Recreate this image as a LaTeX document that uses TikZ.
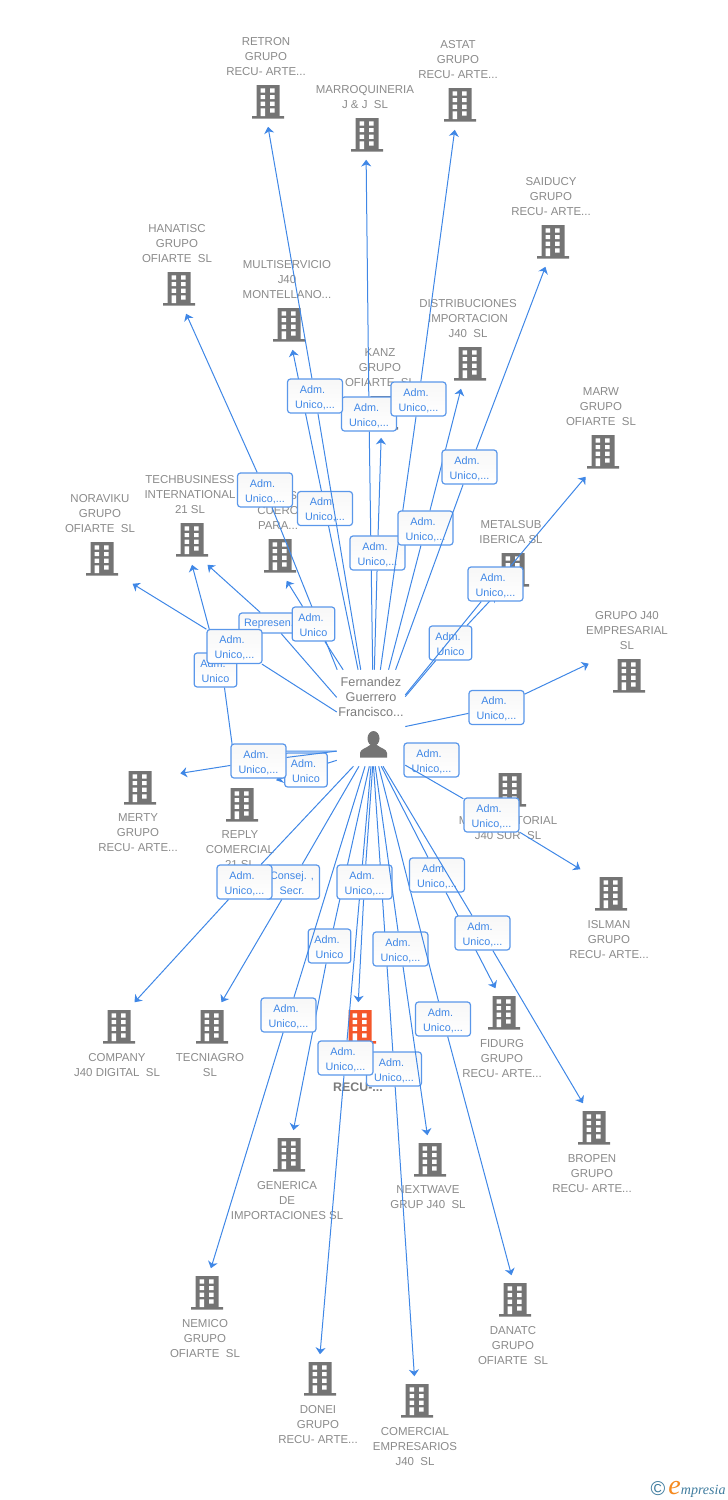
\documentclass[tikz,border=0pt]{standalone}
\usepackage{fontspec}
\setmainfont{Liberation Sans}
\newfontfamily\logofont{Liberation Serif}
\usetikzlibrary{arrows.meta}
\definecolor{relblue}{HTML}{3F87E6}
\definecolor{boxblue}{HTML}{5A97EA}
\definecolor{txtgray}{HTML}{8A8A8A}
\definecolor{icongray}{HTML}{747474}
\definecolor{iconred}{HTML}{F4572A}
\definecolor{logoteal}{HTML}{3F7C9E}
\definecolor{logoorange}{HTML}{F58A1F}
\newcommand{\bldgicon}[1]{
  \begin{scope}[shift={(path picture bounding box.center)}]
    \fill[#1] (-11.5,-17) rectangle (11.5,14) (-16,14) rectangle (16,16.5);
    \foreach \wy in {-13.7,-7,-0.3} {
      \fill[white] (-7.3,\wy) rectangle +(4.4,4.2) (2,\wy) rectangle +(4.6,4.2);
    }
    \fill[white] (-7.3,6.3) rectangle (-3,14) (2,6.3) rectangle +(4.6,4.2);
  \end{scope}
}
\tikzset{
  bldg/.style={rectangle, inner sep=0mm, minimum width=60pt, minimum height=36.75pt, path picture={\bldgicon{#1}}},
  bldg/.default=icongray,
  every label/.style={align=center, inner sep=0mm, text=txtgray, xshift=-1.5pt, label distance=.75pt, font=\fontsize{8.6}{11.25}\selectfont},
  perbox/.style={rectangle, inner sep=0mm, minimum width=51pt, minimum height=72pt, path picture={
    \begin{scope}[shift={(path picture bounding box.center)}]
      \fill[icongray] (2.5,20.5) ellipse [x radius=4.5pt, y radius=5.6pt];
      \fill[icongray] (-11,39.7) -- (16,39.7) -- (16,35) .. controls (16,31) and (9,30) .. (6,27) -- (-1,27) .. controls (-4,30) and (-11,31) .. (-11,35) -- cycle;
    \end{scope}}},
  pertext/.style={align=center, inner sep=0mm, text=txtgray!90!black, font=\fontsize{9.5}{11.25}\selectfont},
  relbox/.style={rectangle, draw=boxblue, line width=.9pt, rounded corners=2.25pt, top color=black!3, bottom color=white, inner sep=0mm, minimum width=41.25pt, minimum height=25.5pt, text height=18pt, text depth=0pt, align=center, text=relblue, font=\fontsize{8.1}{11.25}\selectfont},
  relshort/.style={relbox, minimum width=32pt},
  rel/.style={draw=relblue, line width=.75pt, -{Stealth[length=5pt, width=7.5pt, inset=1.5pt]}},
  plain/.style={draw=relblue, line width=.75pt}
}
\begin{document}
\begin{tikzpicture}[x=.75pt, y=-.75pt]
\useasboundingbox (0,0) rectangle (728,1500);
\node (b0) [bldg, label=above:{RETRON\\GRUPO\\RECU- ARTE...}] at (268,102) {};
\node (b1) [bldg, label=above:{MARROQUINERIA\\J \& J~~SL}] at (367,135) {};
\node (b2) [bldg, label=above:{ASTAT\\GRUPO\\RECU- ARTE...}] at (460,105) {};
\node (b3) [bldg, label=above:{SAIDUCY\\GRUPO\\RECU- ARTE...}] at (553,242) {};
\node (b4) [bldg, label=above:{HANATISC\\GRUPO\\OFIARTE~~SL}] at (179,289) {};
\node (b5) [bldg, label=above:{MULTISERVICIO\\J40\\MONTELLANO...}] at (289,325) {};
\node (b6) [bldg, label=above:{DISTRIBUCIONES\\IMPORTACION\\J40~~SL}] at (470,364) {};
\node (b7) [bldg, label=above:{KANZ\\GRUPO\\OFIARTE~~SL}] at (382,413) {};
\node (b8) [bldg, label=above:{MARW\\GRUPO\\OFIARTE~~SL}] at (603,452) {};
\node (b9) [bldg, label=above:{METALSUB\\IBERICA SL}] at (513,570) {};
\node (b10) [bldg, label=above:{NORAVIKU\\GRUPO\\OFIARTE~~SL}] at (102,559) {};
\node (b11) [bldg, label=above:{TECHBUSINESS\\INTERNATIONAL\\21 SL}] at (192,540) {};
\node (b12) [bldg, label=above:{\phantom{ARTE}S\\CUERO\\PARA...}] at (280,556) {};
\node (b13) [bldg, label=above:{GRUPO J40\\EMPRESARIAL\\SL}] at (629,676) {};
\node (b14) [bldg, label=below:{MERTY\\GRUPO\\RECU- ARTE...}] at (140,788) {};
\node (b15) [bldg, label=below:{REPLY\\COMERCIAL\\21 SL}] at (242,805) {};
\node (b16) [bldg, label=below:{MULTISECTORIAL\\J40 SUR~~SL}] at (510,790) {};
\node (b17) [bldg, label=below:{ISLMAN\\GRUPO\\RECU- ARTE...}] at (611,894) {};
\node (b18) [bldg, label=below:{COMPANY\\J40 DIGITAL~~SL}] at (119,1027) {};
\node (b19) [bldg, label=below:{TECNIAGRO\\SL}] at (212,1027) {};
\node (b20) [bldg=iconred] at (360,1027) {};
\node (b20t) [text=txtgray!90!black, inner sep=0mm, font=\bfseries\fontsize{9.3}{11.25}\selectfont] at (358,1087) {RECU-...};
\node (b21) [bldg, label=below:{FIDURG\\GRUPO\\RECU- ARTE...}] at (504,1013) {};
\node (b22) [bldg, label=below:{BROPEN\\GRUPO\\RECU- ARTE...}] at (594,1128) {};
\node (b23) [bldg, label=below:{GENERICA\\DE\\IMPORTACIONES SL}] at (289,1155) {};
\node (b24) [bldg, label=below:{NEXTWAVE\\GRUP J40~~SL}] at (430,1160) {};
\node (b25) [bldg, label=below:{NEMICO\\GRUPO\\OFIARTE~~SL}] at (207,1293) {};
\node (b26) [bldg, label=below:{DANATC\\GRUPO\\OFIARTE~~SL}] at (515,1300) {};
\node (b27) [bldg, label=below:{DONEI\\GRUPO\\RECU- ARTE...}] at (320,1379) {};
\node (b28) [bldg, label=below:{COMERCIAL\\EMPRESARIOS\\J40~~SL}] at (417,1401) {};
\node (per) [perbox] at (371,718) {};
\node (pername) [pertext] at (371,697) {Fernandez\\Guerrero\\Francisco...};
\node (r1) [relbox] at (369,414) {Adm.\hspace*{.45em}\\Unico,...};
\draw [rel] (per.88.8) -- (r1) -- (b1.-92);
\node (r5) [relbox] at (325,508.5) {Adm.\hspace*{.45em}\\Unico,...};
\draw [rel] (per.105.2) -- (r5) -- (b5.-82.6);
\node (r4) [relbox] at (265,490) {Adm.\hspace*{.45em}\\Unico,...};
\draw [rel] (per.125.3) -- (r4) -- (b4.-74.7);
\node (r0) [relbox] at (315,396) {Adm.\hspace*{.45em}\\Unico,...};
\draw [rel] (per.102.9) -- (r0) -- (b0.-90);
\node (r7) [relbox] at (377.5,553) {Adm.\hspace*{.45em}\\Unico,...};
\draw [rel] (per.86.4) -- (r7) -- (b7.-92);
\node (r2) [relbox] at (418.5,399) {Adm.\hspace*{.45em}\\Unico,...};
\draw [rel] (per.79.4) -- (r2) -- (b2.-102);
\node (r6) [relbox] at (425.5,528) {Adm.\hspace*{.45em}\\Unico,...};
\draw [rel] (per.70.5) -- (r6) -- (b6.-110.6);
\node (r3) [relbox] at (469.5,467) {Adm.\hspace*{.45em}\\Unico,...};
\draw [rel] (per.63.4) -- (r3) -- (b3.-107.6);
\node (r9) [relshort] at (450.5,643) {Adm.\hspace*{.45em}\\Unico};
\draw [rel] (per.32) -- (r9) -- (b9.-125);
\node (r8) [relbox] at (495.5,584) {Adm.\hspace*{.45em}\\Unico,...};
\draw [rel] (per.34) -- (r8) -- (b8.-125);
\node (r13) [relbox] at (496.5,707.5) {Adm.\hspace*{.45em}\\Unico,...};
\draw [rel] (per.-14.8) -- (r13) -- (b13.163.7);
\node (r11) [relbox, minimum width=49.5pt, minimum height=15pt, text height=5.6pt] at (272,623) {Represen...};
\draw [rel] (per.149.5) -- (r11) -- (b11.-58);
\node (r12) [relshort] at (313.5,624) {Adm.\hspace*{.45em}\\Unico};
\draw [rel] (per.120.3) -- (r12) -- (b12.-75);
\coordinate (k11) at (233,751);
\node (r29) [relshort] at (215.5,670) {Adm.\hspace*{.45em}\\Unico};
\draw [plain] (per.224) -- (k11) -- (r29.-63);
\draw [rel] (r29.north) -- (b11.-90);
\node (r10) [relbox] at (234.5,646.5) {Adm.\hspace*{.45em}\\Unico,...};
\draw [rel] (per.170) -- (r10) -- (b10.-39.4);
\node (r15) [relshort] at (306,770) {Adm.\hspace*{.45em}\\Unico};
\draw [rel] (per.231) -- (r15) -- (b15.36);
\node (r14) [relbox] at (258.5,761) {Adm.\hspace*{.45em}\\Unico,...};
\draw [rel] (per.224) -- (r14) -- (b14.20.2);
\node (r16) [relbox] at (431.5,760) {Adm.\hspace*{.45em}\\Unico,...};
\node (r17) [relbox] at (491.5,815) {Adm.\hspace*{.45em}\\Unico,...};
\draw [rel] (per.-54.7) -- (r17) -- (b17.141.8);
\node (r19) [relbox] at (292,882) {Consej. ,\\Secr.};
\draw [rel] (per.-104) -- (r19) -- (b19.69);
\node (r18) [relbox] at (244.5,882) {Adm.\hspace*{.45em}\\Unico,...};
\draw [rel] (per.-110.9) -- (r18) -- (b18.58.4);
\node (r28) [relbox] at (394,1069) {Adm.\hspace*{.45em}\\Unico,...};
\draw [rel] (per.-87) -- (r28) -- (b28.96.6);
\node (r27) [relbox] at (345.5,1058) {Adm.\hspace*{.45em}\\Unico,...};
\draw [rel] (per.-90) -- (r27) -- (b27.90);
\node (r23) [relshort] at (329.5,946) {Adm.\hspace*{.45em}\\Unico};
\draw [rel] (per.-92.4) -- (r23) -- (b23.80.9);
\node (r20) [relbox] at (364.5,882) {Adm.\hspace*{.45em}\\Unico,...};
\draw [rel] (per.-88.8) -- (r20) -- (b20.94.4);
\node (r25) [relbox] at (288.5,1015) {Adm.\hspace*{.45em}\\Unico,...};
\draw [rel] (per.-97.1) -- (r25) -- (b25.81.3);
\node (r24) [relbox] at (400.5,949) {Adm.\hspace*{.45em}\\Unico,...};
\draw [rel] (per.-85.2) -- (r24) -- (b24.96.6);
\node (r26) [relbox] at (443,1019) {Adm.\hspace*{.45em}\\Unico,...};
\draw [rel] (per.-81.7) -- (r26) -- (b26.98.7);
\node (r21) [relbox] at (437,875) {Adm.\hspace*{.45em}\\Unico,...};
\draw [rel] (per.-78.2) -- (r21) -- (b21.109.8);
\node (r22) [relbox] at (482.5,933) {Adm.\hspace*{.45em}\\Unico,...};
\draw [rel] (per.-76) -- (r22) -- (b22.114.8);
\node (copy) [inner sep=0mm, text=logoteal, font=\fontsize{15}{16}\selectfont] at (658,1489) {©};
\node (logo) [inner sep=0mm, text=logoteal, font=\logofont\itshape\fontsize{10.5}{12}\selectfont] at (697,1489) {\textcolor{logoorange}{\fontsize{21}{21}\selectfont e}mpresia};
\end{tikzpicture}
\end{document}
